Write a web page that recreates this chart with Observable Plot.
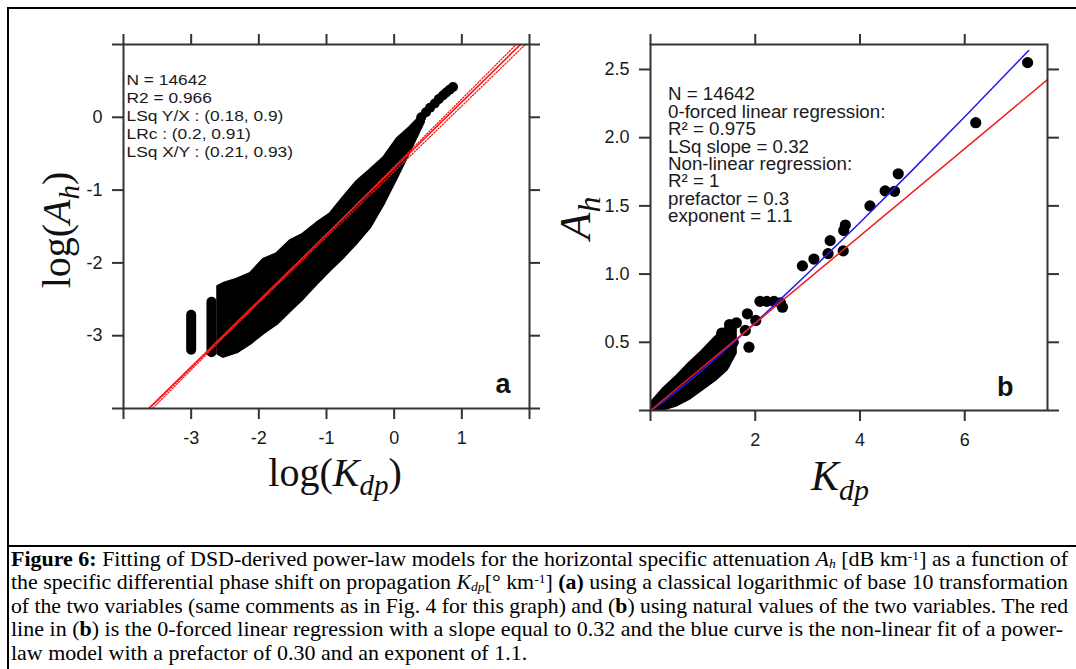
<!DOCTYPE html>
<html><head><meta charset="utf-8">
<script src="https://cdn.jsdelivr.net/npm/d3@7"></script>
<script src="https://cdn.jsdelivr.net/npm/@observablehq/plot@0.6"></script>
<style>
html,body{margin:0;padding:0;background:#fff;}
#page{position:relative;width:1076px;height:669px;overflow:hidden;background:#fff;}
#left{position:absolute;left:0;top:0;}
#right{position:absolute;left:540px;top:0;}
#labels{position:absolute;left:0;top:0;z-index:3;}
#frame{position:absolute;left:7px;top:7px;width:1100px;height:700px;border-top:2px solid #000;border-left:2px solid #000;z-index:5;}
#sep{position:absolute;left:7px;top:545px;width:1100px;height:0;border-top:2px solid #000;z-index:5;}
#caption{position:absolute;left:11px;top:548px;font-family:"Liberation Serif","Times New Roman",serif;font-size:21px;line-height:23.4px;color:#000;z-index:4;}
.cl{white-space:nowrap;transform-origin:0 0;width:max-content;height:23.4px;}
sub{line-height:0;font-size:62%;vertical-align:-0.15em;}
sup{line-height:0;font-size:62%;vertical-align:0.45em;}
</style></head><body>
<div id="page">
  <div id="left"></div>
  <div id="right"></div>
  <div id="labels"></div>
  <div id="caption"></div>
  <div id="frame"></div>
  <div id="sep"></div>
</div>
<script>
// ---------- Panel a : log10 values ----------
const nObs = 14642;
const r2Log = 0.966;
const colLogKdp = [-3.0, -2.70];
const colLogAhTop = [-2.72, -2.54];
const colLogAhBottom = [-3.20, -3.235];
const blobLogKdp = [-2.60, -2.52, -2.32, -2.12, -1.93, -1.73, -1.53, -1.34, -1.14, -0.94, -0.74, -0.55, -0.35, -0.15, 0.05, 0.24, 0.44];
const blobUpper  = [-2.33, -2.29, -2.23, -2.15, -1.96, -1.88, -1.70, -1.61, -1.46, -1.33, -1.10, -0.89, -0.73, -0.56, -0.30, -0.14, 0.05];
const blobLower  = [-3.25, -3.29, -3.23, -3.11, -2.97, -2.84, -2.66, -2.49, -2.29, -2.10, -1.92, -1.73, -1.51, -1.19, -0.82, -0.46, -0.07];
const tailLogKdp = [0.40, 0.47, 0.53, 0.60, 0.66, 0.72, 0.77, 0.82, 0.87];
const tailLogAh  = [0.00, 0.07, 0.13, 0.19, 0.25, 0.30, 0.34, 0.38, 0.415];
const fitNames = ["LSq Y/X", "LRc", "LSq X/Y"];
const fitPrefactor = [0.18, 0.2, 0.21];
const fitExponent = [0.9, 0.91, 0.93];
const xTicksA = [-4, -3, -2, -1, 0, 1, 2];
const yTicksA = [-4, -3, -2, -1, 0, 1];

// ---------- Panel b : natural values ----------
const r2Lin = 0.975;
const linSlope = 0.32;
const r2Pow = 1;
const powPrefactor = 0.3;
const powExponent = 1.1;
const bandKdp   = [0, 0.25, 0.5, 0.75, 1.0, 1.25, 1.45, 1.62];
const bandUpper = [0.04, 0.15, 0.24, 0.34, 0.43, 0.53, 0.60, 0.64];
const bandLower = [0, 0.01, 0.04, 0.09, 0.16, 0.23, 0.30, 0.42];
const dotKdp = [7.20, 6.21, 4.73, 4.66, 4.48, 4.19, 3.72, 3.69, 3.68, 3.43, 3.39, 3.12, 2.90, 2.52, 2.48, 2.36, 2.22, 2.09, 2.01, 1.85, 1.81, 1.88, 1.64, 1.51, 1.36, 1.58, 1.42];
const dotAh  = [2.55, 2.11, 1.735, 1.607, 1.61, 1.50, 1.36, 1.32, 1.17, 1.245, 1.15, 1.11, 1.06, 0.757, 0.79, 0.80, 0.80, 0.80, 0.66, 0.709, 0.587, 0.464, 0.643, 0.63, 0.567, 0.50, 0.34];
const curveKdp = [0, 0.1, 0.25, 0.5, 0.75, 1, 1.5, 2, 2.5, 3, 4, 5, 6, 7, 7.22];
const linKdp = [0, 7.58];
const xTicksB = [0, 2, 4, 6];
const yTicksB = [0, 0.5, 1.0, 1.5, 2.0, 2.5];

const AX = "#333", TXT = "#1a1a1a", RED = "#f21c1c", BLUE = "#1c1cf2";

// ---------- derived tables ----------
const blobRows = blobLogKdp.map((x, i) => ({x, lo: blobLower[i], hi: blobUpper[i]}));
const colRows = colLogKdp.map((x, i) => ({x, y1: colLogAhBottom[i], y2: colLogAhTop[i]}));
const tailRows = tailLogKdp.map((x, i) => ({x, y: tailLogAh[i]}));
const fitRows = fitNames.flatMap((name, i) => [-4, 2].map(x => ({name, x, y: Math.log10(fitPrefactor[i]) + fitExponent[i] * x})));
const annAText = [`N = ${nObs}`, `R2 = ${r2Log}`, ...fitNames.map((n, i) => `${n} : (${fitPrefactor[i]}, ${fitExponent[i]})`)].join("\n");

const bandRows = bandKdp.map((x, i) => ({x, lo: bandLower[i], hi: bandUpper[i]}));
const dotRows = dotKdp.map((x, i) => ({x, y: dotAh[i]}));
const powRows = curveKdp.map(x => ({x, y: powPrefactor * Math.pow(x, powExponent)}));
const linRows = linKdp.map(x => ({x, y: linSlope * x}));
const annBText = [`N = ${nObs}`, "0-forced linear regression:", `R² = ${r2Lin}`, `LSq slope = ${linSlope}`,
  "Non-linear regression:", `R² = ${r2Pow}`, `prefactor = ${powPrefactor}`, `exponent = ${powExponent}`].join("\n");

const baseStyle = {fontFamily: "'Liberation Sans', Arial, sans-serif", fontSize: "18px", background: "transparent", color: TXT};

function axes(xt, yt, fx, fy) {
  return [
    Plot.frame({stroke: AX, strokeWidth: 2}),
    Plot.axisX({anchor: "bottom", ticks: xt, tickSize: 11, tickPadding: 12, tickFormat: fx, label: null, stroke: AX, strokeWidth: 2, fill: TXT, fontSize: 18}),
    Plot.axisX({anchor: "top", ticks: xt, tickSize: 11, tickFormat: () => "", label: null, stroke: AX, strokeWidth: 2}),
    Plot.axisY({anchor: "left", ticks: yt, tickSize: 11, tickPadding: 10, tickFormat: fy, label: null, stroke: AX, strokeWidth: 2, fill: TXT, fontSize: 18}),
    Plot.axisY({anchor: "right", ticks: yt, tickSize: 11, tickFormat: () => "", label: null, stroke: AX, strokeWidth: 2})
  ];
}

const plotA = Plot.plot({
  width: 540, height: 520,
  marginLeft: 123, marginRight: 11, marginTop: 44, marginBottom: 112,
  x: {domain: [-4, 2]}, y: {domain: [-4, 1]},
  style: baseStyle,
  marks: [
    Plot.areaY(blobRows, {x: "x", y1: "lo", y2: "hi", fill: "#000", stroke: "#000", strokeWidth: 3, strokeLinejoin: "round"}),
    Plot.ruleX(colRows, {x: "x", y1: "y1", y2: "y2", stroke: "#000", strokeWidth: 10, strokeLinecap: "round"}),
    Plot.dot(tailRows, {x: "x", y: "y", r: 5, fill: "#000"}),
    Plot.line(fitRows.filter(d => d.name !== "LRc"), {x: "x", y: "y", z: "name", stroke: RED, strokeWidth: 1.3, strokeDasharray: "1.2 1.8", clip: true}),
    Plot.line(fitRows.filter(d => d.name === "LRc"), {x: "x", y: "y", stroke: RED, strokeWidth: 1.6, clip: true}),
    ...axes(xTicksA, yTicksA, d => (d === -4 || d === 2) ? "" : String(d), d => (d === -4 || d === 1) ? "" : String(d)),
    Plot.text([annAText], {text: d => d, frameAnchor: "top-left", dx: 3, dy: 28, lineAnchor: "top", textAnchor: "start", lineHeight: 1.155, fontSize: 15.5, fill: TXT}),
    Plot.text(["a"], {text: d => d, frameAnchor: "bottom-right", dx: -19, dy: -24, textAnchor: "end", lineAnchor: "middle", fontSize: 27, fontWeight: "bold", fill: "#111"})
  ]
});
document.getElementById("left").append(plotA);

const plotB = Plot.plot({
  width: 536, height: 520,
  marginLeft: 110, marginRight: 29, marginTop: 44, marginBottom: 110,
  x: {domain: [0, 7.58]}, y: {domain: [0, 2.683]},
  style: baseStyle,
  marks: [
    Plot.areaY(bandRows, {x: "x", y1: "lo", y2: "hi", fill: "#000", stroke: "#000", strokeWidth: 4, strokeLinejoin: "round", clip: true}),
    Plot.dot(dotRows, {x: "x", y: "y", r: 5.6, fill: "#000", clip: true}),
    Plot.line(powRows, {x: "x", y: "y", stroke: BLUE, strokeWidth: 1.5, clip: true}),
    Plot.line(linRows, {x: "x", y: "y", stroke: RED, strokeWidth: 1.5, clip: true}),
    ...axes(xTicksB, yTicksB, d => d === 0 ? "" : String(d), d => d === 0 ? "" : d3.format(".1f")(d)),
    Plot.text([annBText], {text: d => d, frameAnchor: "top-left", dx: 17.5, dy: 43.5, lineAnchor: "top", textAnchor: "start", lineHeight: 0.995, fontSize: 17.5, fill: TXT}),
    Plot.text(["b"], {text: d => d, frameAnchor: "bottom-right", dx: -34, dy: -23, textAnchor: "end", lineAnchor: "middle", fontSize: 27, fontWeight: "bold", fill: "#111"})
  ]
});
document.getElementById("right").append(plotB);

// horizontal stretch of the statistics blocks (the source text is slightly widened)
function stretch(svg, s) {
  svg.querySelectorAll("text").forEach(t => {
    if (!t.textContent.startsWith("N = ")) return;
    const x = +(t.getAttribute("x") || 0), y = +(t.getAttribute("y") || 0);
    const tr = t.getAttribute("transform") || "";
    t.setAttribute("transform", `${tr} translate(${x},${y}) scale(${s},1) translate(${-x},${-y})`.trim());
  });
}
stretch(plotA, 1.12);
stretch(plotB, 1.07);

// ---------- math axis titles ----------
const lab = d3.select("#labels").append("svg").attr("width", 1076).attr("height", 669)
  .style("font-family", "'Liberation Serif', 'Times New Roman', serif").style("font-size", "40px").attr("fill", "#111");
function mathLabel(x, y, rot, size, parts) {
  const t = lab.append("text").attr("text-anchor", "middle").style("font-size", size + "px")
    .attr("transform", `translate(${x},${y})${rot ? " rotate(-90)" : ""}`);
  parts.forEach(p => {
    const s = t.append("tspan").text(p.t);
    if (p.it) s.attr("font-style", "italic");
    if (p.sub) s.style("font-size", Math.round(size * 0.72) + "px").attr("dy", size * 0.23);
    if (p.back) s.attr("dy", -size * 0.23);
  });
}
mathLabel(335, 486, false, 40, [{t: "log("}, {t: "K", it: true}, {t: "dp", it: true, sub: true}, {t: ")", back: true}]);
mathLabel(70, 230, true, 40, [{t: "log("}, {t: "A", it: true}, {t: "h", it: true, sub: true}, {t: ")", back: true}]);
mathLabel(840, 490, false, 42, [{t: "K", it: true}, {t: "dp", it: true, sub: true}]);
mathLabel(590, 218, true, 44, [{t: "A", it: true}, {t: "h", it: true, sub: true}]);

// ---------- caption ----------
const captionLines = [
  '<b>Figure 6:</b> Fitting of DSD-derived power-law models for the horizontal specific attenuation <i>A<sub>h</sub></i> [dB km<sup>-1</sup>] as a function of',
  'the specific differential phase shift on propagation <i>K<sub>dp</sub></i>[° km<sup>-1</sup>] <b>(a)</b> using a classical logarithmic of base 10 transformation',
  'of the two variables (same comments as in Fig. 4 for this graph) and (<b>b</b>) using natural values of the two variables. The red',
  'line in (<b>b</b>) is the 0-forced linear regression with a slope equal to 0.32 and the blue curve is the non-linear fit of a power-',
  'law model with a prefactor of 0.30 and an exponent of 1.1.'
];
const capTargets = [1057, 1057, 1057, 1052, 0];
const cap = document.getElementById("caption");
let s0 = 1;
captionLines.forEach((h, i) => {
  const d = document.createElement("div");
  d.className = "cl"; d.innerHTML = h; cap.append(d);
  const w = d.getBoundingClientRect().width;
  const s = capTargets[i] ? capTargets[i] / w : s0;
  if (i === 0) s0 = s;
  d.style.transform = `scaleX(${s})`;
});
</script>
</body></html>
